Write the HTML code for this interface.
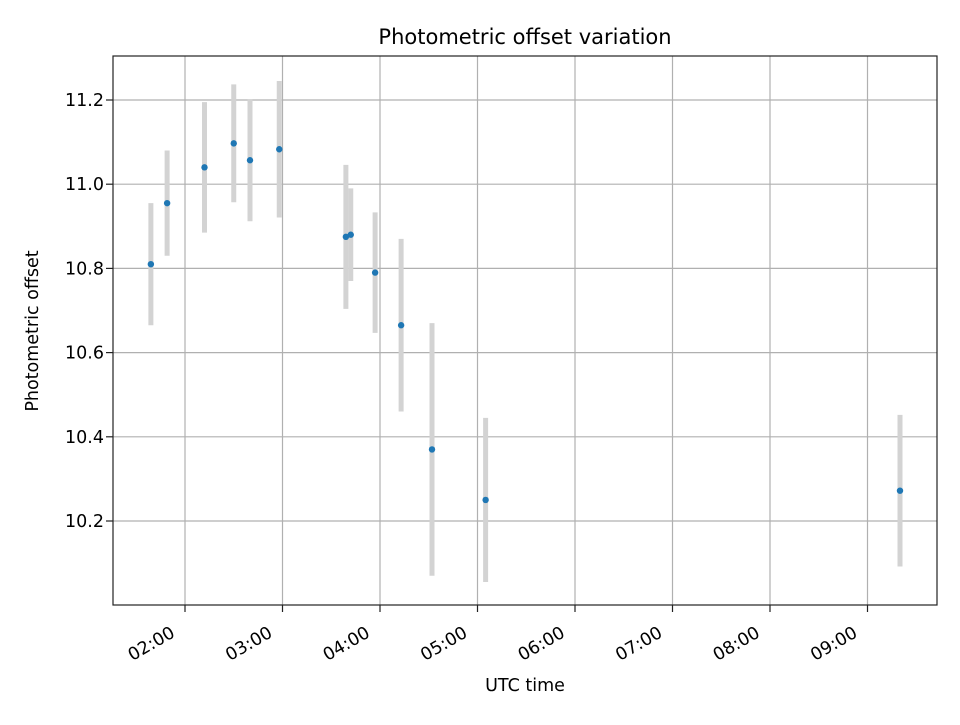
<!DOCTYPE html>
<html><head><meta charset="utf-8"><style>
body{margin:0;background:#fff;}
svg text{font-family:"DejaVu Sans","Liberation Sans",sans-serif;fill:#000;}
</style></head><body>
<svg id="chart" width="960" height="720" xmlns="http://www.w3.org/2000/svg">
<rect width="960" height="720" fill="#fff"/>
<g id="grid"></g>
<g id="bars"></g>
<g id="pts"></g>
<rect x="113" y="56" width="824" height="549" fill="none" stroke="#222" stroke-width="1.2"/>
<g id="axes"></g>
<text x="525" y="44" font-size="21" text-anchor="middle">Photometric offset variation</text>
<text x="525" y="691" font-size="17.5" text-anchor="middle">UTC time</text>
<text transform="translate(38,331) rotate(-90)" font-size="17.5" text-anchor="middle">Photometric offset</text>
</svg>
<script>
const times = ["01:39","01:49","02:12","02:30","02:40","02:58","03:39","03:42","03:57","04:13","04:32","05:05","09:20"];
const offsets = [10.81,10.955,11.04,11.097,11.057,11.083,10.875,10.88,10.79,10.665,10.37,10.25,10.272];
const errors = [0.145,0.125,0.155,0.14,0.145,0.162,0.171,0.11,0.143,0.205,0.3,0.195,0.18];
const xTickLabels = ["02:00","03:00","04:00","05:00","06:00","07:00","08:00","09:00"];
const yTickValues = [10.2,10.4,10.6,10.8,11.0,11.2];

const NS="http://www.w3.org/2000/svg";
function mins(t){const p=t.split(":");return +p[0]*60+ +p[1];}
function xScale(m){return 185+(m-120)*97.5/60;}
function yScale(v){return 521-(v-10.2)*421;}
function mk(tag,attrs,parent){const e=document.createElementNS(NS,tag);for(const k in attrs)e.setAttribute(k,attrs[k]);parent.appendChild(e);return e;}
const grid=document.getElementById('grid'),bars=document.getElementById('bars'),pts=document.getElementById('pts'),axes=document.getElementById('axes');

xTickLabels.forEach(l=>{
  const x=xScale(mins(l));
  const g=mk('line',{x1:x,x2:x,y1:56,y2:605,stroke:'#b0b0b0','stroke-width':1.2},grid);
  
  
  const t=mk('line',{x1:x,x2:x,y1:605,y2:612,stroke:'#222','stroke-width':1.2},axes);
  
  
  const tx=mk('text',{'font-size':17.5,'text-anchor':'end',transform:`translate(${x-9},${636}) rotate(-30)`},axes);
  tx.textContent=l;
  
  
});
yTickValues.forEach(v=>{
  const y=yScale(v);
  const g=mk('line',{x1:113,x2:937,y1:y,y2:y,stroke:'#b0b0b0','stroke-width':1.2},grid);
  
  
  const t=mk('line',{x1:106,x2:113,y1:y,y2:y,stroke:'#222','stroke-width':1.2},axes);
  
  
  const tx=mk('text',{x:104,y:y+6,'font-size':17.5,'text-anchor':'end'},axes);
  tx.textContent=v.toFixed(1);
  
  
});
times.forEach((t,i)=>{
  const x=xScale(mins(t));
  const b=mk('line',{x1:x,x2:x,y1:yScale(offsets[i]+errors[i]),y2:yScale(offsets[i]-errors[i]),stroke:'#d3d3d3','stroke-width':5},bars);
  
  
  const c=mk('circle',{cx:x,cy:yScale(offsets[i]),r:3.2,fill:'#1f77b4'},pts);
  
  
});
</script>
</body></html>
